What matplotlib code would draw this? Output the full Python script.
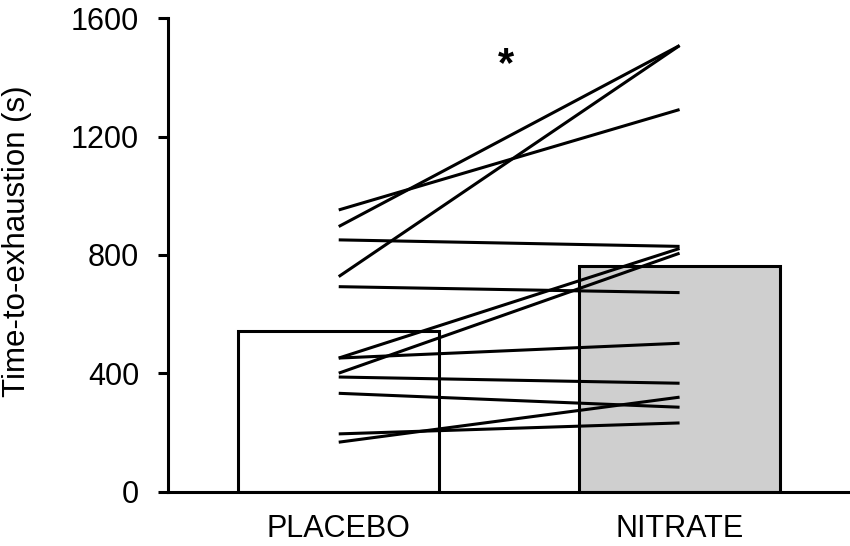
import matplotlib
matplotlib.use("Agg")
import matplotlib.pyplot as plt

plt.rcParams['font.family'] = ['Liberation Sans', 'DejaVu Sans']

# 데이터: 그룹, 평균 막대, 개인별 값
groups = ['PLACEBO', 'NITRATE']
bar_means = [545, 762]
placebo = [952, 896, 727, 851, 693, 452, 452, 401, 388, 333, 196, 168]
nitrate = [1291, 1507, 1507, 829, 673, 822, 502, 806, 367, 286, 233, 320]
y_ticks = [0, 400, 800, 1200, 1600]

fig = plt.figure(figsize=(8.5, 5.46), dpi=100)
ax = fig.add_axes([0.198, 0.099, 0.802, 0.868])

x = [0, 1]
ax.bar(x, bar_means, width=0.59, color=['white', '#cfcfcf'],
       edgecolor='black', linewidth=2.2, zorder=1)

# 개인별 선
for p, n in zip(placebo, nitrate):
    ax.plot(x, [p, n], color='black', linewidth=2.2, zorder=2,
            solid_capstyle='butt')

ax.text(0.49, 1440, '*', fontsize=30, fontweight='bold', ha='center', va='center')

ax.set_xlim(-0.5, 1.5)
ax.set_ylim(0, 1600)
ax.set_yticks(y_ticks)
ax.set_xticks(x)
ax.set_xticklabels(groups)
ax.set_ylabel('Time-to-exhaustion (s)', fontsize=22.5)
ax.yaxis.set_label_coords(-0.2, 0.53)

ax.spines['top'].set_visible(False)
ax.spines['right'].set_visible(False)
ax.spines['left'].set_linewidth(2.2)
ax.spines['bottom'].set_linewidth(2.2)
ax.tick_params(axis='y', labelsize=22, length=7, width=2.2, pad=14)
ax.tick_params(axis='x', labelsize=22, length=0, pad=16)

fig.savefig('out.png', dpi=100)
